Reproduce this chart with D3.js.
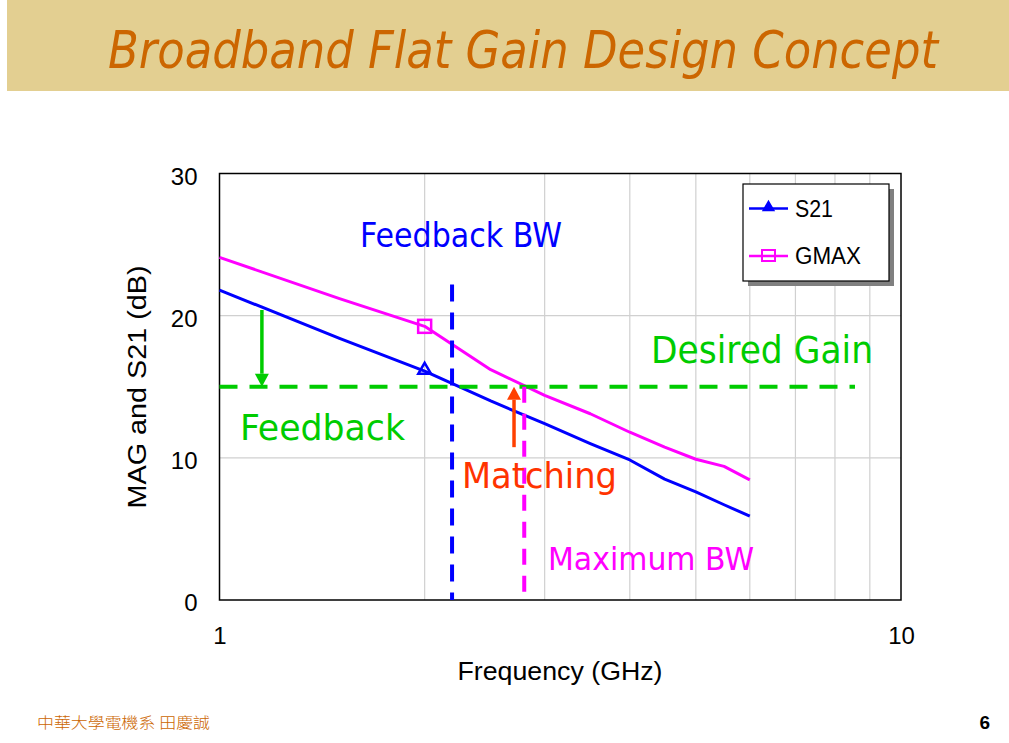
<!DOCTYPE html>
<html>
<head>
<meta charset="utf-8">
<script src="https://cdn.jsdelivr.net/npm/d3@7"></script>
<style>
  html, body { margin: 0; padding: 0; background: #fff; }
  svg { display: block; }
</style>
</head>
<body>
<svg id="chart" width="1009" height="743"></svg>
<script>
// ---- data ----
const freqs = [1, 1.5, 2, 2.5, 3, 3.5, 4, 4.5, 5, 5.5, 6];
const s21   = [21.8, 18.4, 16.1, 14.0, 12.4, 11.0, 9.85, 8.5, 7.6, 6.7, 5.9];
const gmax  = [24.1, 21.2, 19.25, 16.2, 14.4, 13.1, 11.8, 10.75, 9.9, 9.4, 8.45];
const markerFreqs = [2];
const xTicks = [1, 10];
const yTicks = [0, 10, 20, 30];
const xGrid = [2, 3, 4, 5, 6, 7, 8, 9];
const yGrid = [10, 20];
const desiredGain = 15;
const desiredGainEnd = 8.56;
const feedbackBW = 2.194;
const feedbackBWTop = 22.2;
const maximumBW = 2.8;
const feedbackArrow = [1.154, 20.4];   // freq, start dB (ends at desired gain)
const matchingArrow = [2.705, 10.75];  // freq, start dB (ends at desired gain)

const svg = d3.select("#chart");
const W = 1009, H = 743;
svg.append("rect").attr("width", W).attr("height", H).attr("fill", "#fff");

// title band
svg.append("rect").attr("x", 7).attr("y", 0).attr("width", W - 7).attr("height", 91).attr("fill", "#E3CF91");
svg.append("text").attr("x", 108).attr("y", 68)
  .attr("font-family", "'DejaVu Sans Condensed', 'DejaVu Sans', sans-serif")
  .attr("font-stretch", "condensed")
  .attr("font-style", "italic").attr("font-size", 52).attr("fill", "#CC6600")
  .attr("textLength", 830).attr("lengthAdjust", "spacingAndGlyphs")
  .text("Broadband Flat Gain Design Concept");

// scales
const x = d3.scaleLog().domain([1, 10]).range([219.5, 901]);
const y = d3.scaleLinear().domain([0, 30]).range([600, 173.5]);

// plot bg & grid
svg.append("rect").attr("x", x(1)).attr("y", y(30)).attr("width", x(10) - x(1)).attr("height", y(0) - y(30)).attr("fill", "#fff");
svg.append("g").selectAll("line").data(xGrid).join("line")
  .attr("x1", d => x(d)).attr("x2", d => x(d)).attr("y1", y(0)).attr("y2", y(30))
  .attr("stroke", "#D0D0D0").attr("stroke-width", 1.2);
svg.append("g").selectAll("line").data(yGrid).join("line")
  .attr("x1", x(1)).attr("x2", x(10)).attr("y1", d => y(d)).attr("y2", d => y(d))
  .attr("stroke", "#D0D0D0").attr("stroke-width", 1.2);

// axes
const xAxis = d3.axisBottom(x).tickValues(xTicks).tickFormat(d3.format("d")).tickSize(0).tickPadding(27);
const gx = svg.append("g").attr("transform", `translate(0,${y(0)})`).call(xAxis);
gx.select(".domain").remove();
gx.selectAll("text").attr("font-family", "'Liberation Sans', Arial, sans-serif").attr("font-size", 24).attr("fill", "#000");

const yAxis = d3.axisLeft(y).tickValues(yTicks).tickSize(0).tickPadding(22);
const gy = svg.append("g").attr("transform", `translate(${x(1)},0)`).call(yAxis);
gy.select(".domain").remove();
gy.selectAll("text").attr("font-family", "'Liberation Sans', Arial, sans-serif").attr("font-size", 24).attr("fill", "#000").attr("dy", "0.45em");

// frame
svg.append("rect").attr("x", x(1)).attr("y", y(30)).attr("width", x(10) - x(1)).attr("height", y(0) - y(30))
  .attr("fill", "none").attr("stroke", "#000").attr("stroke-width", 1.5);

// axis titles
svg.append("text").attr("x", 560).attr("y", 680).attr("text-anchor", "middle")
  .attr("font-family", "'Liberation Sans', Arial, sans-serif").attr("font-size", 25)
  .attr("textLength", 205).attr("lengthAdjust", "spacingAndGlyphs")
  .text("Frequency (GHz)");
svg.append("text").attr("transform", "translate(146,387) rotate(-90)").attr("text-anchor", "middle")
  .attr("font-family", "'Liberation Sans', Arial, sans-serif").attr("font-size", 25)
  .attr("textLength", 243).attr("lengthAdjust", "spacingAndGlyphs")
  .text("MAG and S21 (dB)");

// series lines
const line = d3.line().x(d => x(d[0])).y(d => y(d[1]));
svg.append("path").datum(d3.zip(freqs, gmax)).attr("d", line)
  .attr("fill", "none").attr("stroke", "#FF00FF").attr("stroke-width", 3).attr("stroke-linejoin", "round");
svg.append("path").datum(d3.zip(freqs, s21)).attr("d", line)
  .attr("fill", "none").attr("stroke", "#0000FF").attr("stroke-width", 3).attr("stroke-linejoin", "round");

// markers
const triPath = d3.symbol().type(d3.symbolTriangle).size(70);
markerFreqs.forEach(f => {
  const i = freqs.indexOf(f);
  svg.append("path").attr("d", triPath()).attr("transform", `translate(${x(f)},${y(s21[i]) - 1})`)
    .attr("fill", "none").attr("stroke", "#0000FF").attr("stroke-width", 2.5);
  svg.append("rect").attr("x", x(f) - 6.5).attr("y", y(gmax[i]) - 6.5).attr("width", 13).attr("height", 13)
    .attr("fill", "none").attr("stroke", "#FF00FF").attr("stroke-width", 2.5);
});

// dashed reference lines
svg.append("line").attr("x1", x(1)).attr("x2", x(desiredGainEnd)).attr("y1", y(desiredGain)).attr("y2", y(desiredGain))
  .attr("stroke", "#00CC00").attr("stroke-width", 4).attr("stroke-dasharray", "18,12");
svg.append("line").attr("x1", x(feedbackBW)).attr("x2", x(feedbackBW)).attr("y1", y(feedbackBWTop)).attr("y2", y(0))
  .attr("stroke", "#0000FF").attr("stroke-width", 4).attr("stroke-dasharray", "17,11");
svg.append("line").attr("x1", x(maximumBW)).attr("x2", x(maximumBW)).attr("y1", y(desiredGain)).attr("y2", y(0))
  .attr("stroke", "#FF00FF").attr("stroke-width", 4).attr("stroke-dasharray", "16,11");

// arrows
function arrow(f, fromDb, toDb, color) {
  const ax = x(f), y0 = y(fromDb), y1 = y(toDb);
  const dir = y1 > y0 ? 1 : -1;
  const headLen = 13, headW = 7;
  svg.append("line").attr("x1", ax).attr("x2", ax).attr("y1", y0).attr("y2", y1 - dir * headLen)
    .attr("stroke", color).attr("stroke-width", 3.5);
  svg.append("path")
    .attr("d", `M${ax - headW},${y1 - dir * headLen} L${ax + headW},${y1 - dir * headLen} L${ax},${y1} Z`)
    .attr("fill", color);
}
arrow(feedbackArrow[0], feedbackArrow[1], desiredGain, "#00CC00");
arrow(matchingArrow[0], matchingArrow[1], desiredGain, "#FF4000");

// annotation texts
const annFont = "'DejaVu Sans Condensed', 'DejaVu Sans', sans-serif";
function ann(t, xx, yy, size, len, color) {
  svg.append("text").attr("x", xx).attr("y", yy).attr("font-family", annFont).attr("font-stretch", "condensed")
    .attr("font-size", size).attr("fill", color)
    .attr("textLength", len).attr("lengthAdjust", "spacingAndGlyphs").text(t);
}
ann("Feedback BW", 360, 247, 33, 202, "#0000FF");
ann("Desired Gain", 651, 363, 37, 222, "#00CC00");
ann("Feedback", 240, 440, 36, 165, "#00CC00");
ann("Matching", 462, 488, 36, 155, "#FF3300");
ann("Maximum BW", 548, 570, 32, 206, "#FF00FF");

// legend
const lg = svg.append("g");
lg.append("rect").attr("x", 748).attr("y", 189).attr("width", 146).attr("height", 97).attr("fill", "#808080");
lg.append("rect").attr("x", 743).attr("y", 184).attr("width", 146).attr("height", 97).attr("fill", "#fff")
  .attr("stroke", "#000").attr("stroke-width", 1.2);
const legendItems = [
  { name: "S21", color: "#0000FF", yy: 208.5, marker: "tri" },
  { name: "GMAX", color: "#FF00FF", yy: 256, marker: "sq" }
];
legendItems.forEach(it => {
  lg.append("line").attr("x1", 749).attr("x2", 788).attr("y1", it.yy).attr("y2", it.yy)
    .attr("stroke", it.color).attr("stroke-width", 2.5);
  if (it.marker === "tri") {
    lg.append("path").attr("d", d3.symbol().type(d3.symbolTriangle).size(50)()).attr("transform", `translate(768.5,${it.yy - 1})`)
      .attr("fill", it.color).attr("stroke", it.color).attr("stroke-width", 1.5);
  } else {
    lg.append("rect").attr("x", 762).attr("y", it.yy - 6).attr("width", 13).attr("height", 11)
      .attr("fill", "none").attr("stroke", it.color).attr("stroke-width", 2);
  }
  lg.append("text").attr("x", 795).attr("y", it.yy + 8)
    .attr("font-family", "'Liberation Sans', Arial, sans-serif").attr("font-size", 23).attr("fill", "#000")
    .attr("textLength", it.name === "S21" ? 38 : 66).attr("lengthAdjust", "spacingAndGlyphs")
    .text(it.name);
});

// footer
svg.append("text").attr("x", 37).attr("y", 728)
  .attr("font-family", "'Noto Sans CJK TC', 'Noto Sans CJK SC', sans-serif").attr("font-size", 15).attr("font-weight", 300).attr("fill", "#CC6600")
  .attr("textLength", 173).attr("lengthAdjust", "spacingAndGlyphs")
  .text("中華大學電機系 田慶誠");
svg.append("text").attr("x", 990).attr("y", 729).attr("text-anchor", "end")
  .attr("font-family", "'Liberation Sans', Arial, sans-serif").attr("font-size", 19).attr("font-weight", "bold").attr("fill", "#000")
  .text("6");
</script>
</body>
</html>
